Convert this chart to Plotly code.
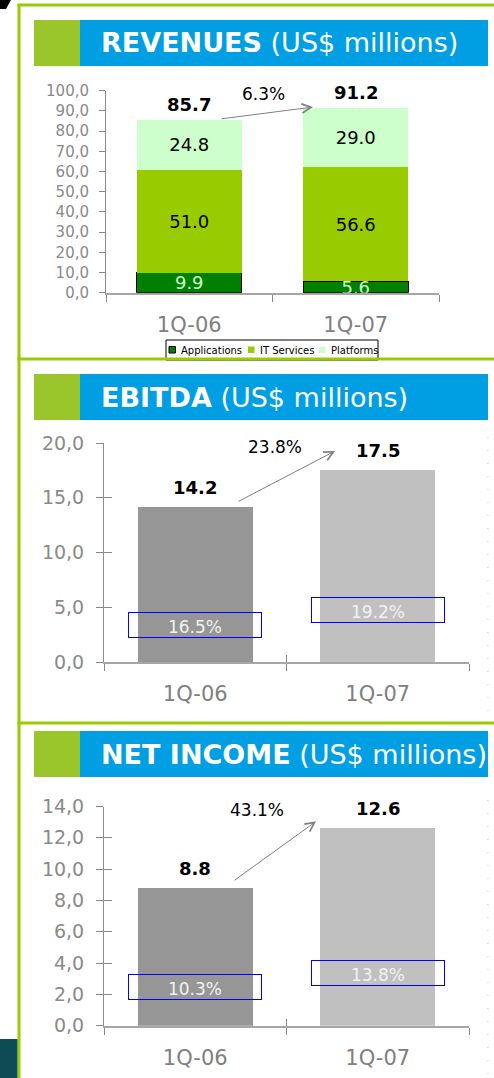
import plotly.graph_objects as go

# ---------------- data ----------------
quarters = ["1Q-06", "1Q-07"]

rev_series = ["Applications", "IT Services", "Platforms"]
rev_applications = [9.9, 5.6]
rev_it_services = [51.0, 56.6]
rev_platforms = [24.8, 29.0]
rev_total = [85.7, 91.2]
rev_growth = "6.3%"

ebitda = [14.2, 17.5]
ebitda_margin = ["16.5%", "19.2%"]
ebitda_growth = "23.8%"

net_income = [8.8, 12.6]
ni_margin = ["10.3%", "13.8%"]
ni_growth = "43.1%"

titles_bold = ["REVENUES", "EBITDA", "NET INCOME"]
title_unit = "(US$ millions)"

# ---------------- helpers ----------------
W, H = 494, 1078
FONT = "DejaVu Sans"


def px(x):
    return x / W


def py(y):
    return 1 - y / H


GREEN = "#99CC00"
BANNER_GREEN = "#9BC62B"
BLUE = "#009FE3"
TICK_GRAY = "#8A8A8A"
AXIS_GRAY = "#8C8C8C"

fig = go.Figure()

# ---------------- revenue (stacked) ----------------
rev_colors = ["#008000", "#99CC00", "#CCFFCC"]
rev_text_colors = ["#CCFFCC", "#000000", "#000000"]
rev_lines = [dict(color="#000000", width=1), dict(width=0), dict(width=0)]
for name, vals, col, tcol, ln in zip(rev_series,
                                     [rev_applications, rev_it_services, rev_platforms],
                                     rev_colors, rev_text_colors, rev_lines):
    fig.add_trace(go.Bar(
        x=quarters, y=vals, name=name, xaxis="x", yaxis="y",
        marker=dict(color=col, line=ln),
        text=[f"{v:.1f}" for v in vals], textposition="inside",
        insidetextanchor="middle", textangle=0, constraintext="none",
        textfont=dict(family=FONT, size=18, color=tcol),
        showlegend=False, hoverinfo="skip",
    ))

# ---------------- EBITDA ----------------
fig.add_trace(go.Bar(
    x=quarters, y=ebitda, xaxis="x2", yaxis="y2",
    marker=dict(color=["#969696", "#C0C0C0"], line=dict(width=0)),
    showlegend=False, hoverinfo="skip",
))

# ---------------- Net income ----------------
fig.add_trace(go.Bar(
    x=quarters, y=net_income, xaxis="x3", yaxis="y3",
    marker=dict(color=["#969696", "#C0C0C0"], line=dict(width=0)),
    showlegend=False, hoverinfo="skip",
))

# empty traces to hold overlay axes (crossing tick marks)
fig.add_trace(go.Scatter(x=[], y=[], xaxis="x4", yaxis="y4", showlegend=False, hoverinfo="skip"))
fig.add_trace(go.Scatter(x=[], y=[], xaxis="x5", yaxis="y5", showlegend=False, hoverinfo="skip"))

annotations = []
shapes = []

# ---------------- axes ----------------
def xcat(domain, anchor, standoff):
    return dict(domain=domain, anchor=anchor, type="category", categoryarray=quarters,
                categoryorder="array", range=[-0.5, 1.5], tickson="boundaries",
                ticks="outside", ticklen=7, tickcolor="#888888", tickwidth=1,
                showline=True, linecolor="#A6A6A6", linewidth=2, showgrid=False,
                zeroline=False, ticklabelstandoff=standoff, automargin=False,
                tickfont=dict(family=FONT, size=21, color="#808080"))


def ylin(domain, anchor, rng, dtick, fsize, standoff, ticklen):
    return dict(domain=domain, anchor=anchor, range=rng, dtick=dtick, tick0=0,
                tickformat=".1f", ticks="outside", ticklen=ticklen, tickcolor="#888888",
                showline=True, linecolor=AXIS_GRAY, linewidth=1, showgrid=False,
                zeroline=False, ticklabelstandoff=standoff, automargin=False,
                tickfont=dict(family=FONT, size=fsize, color=TICK_GRAY))


def overlay_x(over, anchor):
    return dict(overlaying=over, anchor=anchor, range=[-0.5, 1.5],
                tickvals=[-0.5, 0.5, 1.5], ticks="inside", ticklen=7,
                tickcolor="#888888", showticklabels=False, showline=False,
                showgrid=False, zeroline=False, automargin=False)


def overlay_y(over, anchor, rng, dtick):
    return dict(overlaying=over, anchor=anchor, side="left", range=rng, dtick=dtick,
                tick0=0, ticks="inside", ticklen=8, tickcolor="#888888",
                showticklabels=False, showline=False, showgrid=False, zeroline=False,
                automargin=False)


rev_x_dom = [px(106), px(439)]
rev_y_dom = [py(292.7), py(90.7)]
eb_x_dom = [px(104), px(469)]
eb_y_dom = [py(662), py(443)]
ni_x_dom = [px(104), px(469)]
ni_y_dom = [py(1025.7), py(806.5)]

layout_axes = dict(
    xaxis=xcat(rev_x_dom, "y", 12),
    yaxis=ylin(rev_y_dom, "x", [0, 100], 10, 15, 7, 6),
    xaxis2=xcat(eb_x_dom, "y2", 12),
    yaxis2=ylin(eb_y_dom, "x2", [0, 20], 5, 19, 8, 7),
    xaxis3=xcat(ni_x_dom, "y3", 12),
    yaxis3=ylin(ni_y_dom, "x3", [0, 14], 2, 19, 8, 7),
    xaxis4=overlay_x("x2", "y4"),
    yaxis4=overlay_y("y2", "x4", [0, 20], 5),
    xaxis5=overlay_x("x3", "y5"),
    yaxis5=overlay_y("y3", "x5", [0, 14], 2),
)

# ---------------- value labels ----------------
def total_labels(xr, yr, vals, yshift):
    for q, v in zip(quarters, vals):
        annotations.append(dict(x=q, y=v, xref=xr, yref=yr, text=f"<b>{v:.1f}</b>",
                                showarrow=False, yanchor="bottom", yshift=yshift,
                                font=dict(family=FONT, size=18, color="#000000")))


total_labels("x", "y", rev_total, 3)
total_labels("x2", "y2", ebitda, 7)
total_labels("x3", "y3", net_income, 7)


def growth(xr, yr, text, tx, ty, tail, head):
    annotations.append(dict(x=tx, y=ty, xref=xr, yref=yr, text=text, showarrow=False,
                            font=dict(family=FONT, size=17, color="#000000")))
    annotations.append(dict(x=head[0], y=head[1], ax=tail[0], ay=tail[1], xref=xr, yref=yr,
                            axref=xr, ayref=yr, text="", showarrow=True, arrowhead=5,
                            arrowsize=1.8, arrowwidth=1, arrowcolor="#808080", standoff=0))


growth("x", "y", rev_growth, 0.443, 98.4, (0.185, 86.0), (0.743, 91.9))
growth("x2", "y2", ebitda_growth, 0.437, 19.6, (0.229, 14.6), (0.766, 19.27))
growth("x3", "y3", ni_growth, 0.338, 13.75, (0.207, 9.22), (0.662, 13.05))


def margins(xr, yr, texts, ys):
    for i, (t, yy) in enumerate(zip(texts, ys)):
        annotations.append(dict(x=i, y=yy, xref=xr, yref=yr, text=t, showarrow=False,
                                width=132, height=24, bordercolor="#0000FF", borderwidth=1,
                                borderpad=0, valign="bottom", align="center",
                                font=dict(family=FONT, size=17, color="#F2F2F2")))


margins("x2", "y2", ebitda_margin, [3.42, 4.75])
margins("x3", "y3", ni_margin, [2.47, 3.36])

# ---------------- banners ----------------
banner_tops = [20, 374, 731]
for tb, bold in zip(banner_tops, titles_bold):
    shapes.append(dict(type="rect", xref="paper", yref="paper", x0=px(34), x1=px(80),
                       y0=py(tb + 46), y1=py(tb), fillcolor=BANNER_GREEN, line=dict(width=0)))
    shapes.append(dict(type="rect", xref="paper", yref="paper", x0=px(80), x1=px(488),
                       y0=py(tb + 46), y1=py(tb), fillcolor=BLUE, line=dict(width=0)))
    annotations.append(dict(x=px(99), y=py(tb + 23), xref="paper", yref="paper",
                            text=f"<b>{bold}</b> {title_unit}", showarrow=False,
                            xanchor="left", yanchor="middle",
                            font=dict(family=FONT, size=27, color="#FFFFFF")))

# ---------------- legend (manual, compact) ----------------
leg_sq_x = [169, 248, 319]
leg_tx_x = [179, 258, 329]
shapes.append(dict(type="rect", xref="paper", yref="paper", x0=px(166), x1=px(378),
                   y0=py(360), y1=py(340), line=dict(color="#000000", width=1),
                   fillcolor="rgba(0,0,0,0)"))
for name, col, ln, sx, tx in zip(rev_series, rev_colors, rev_lines, leg_sq_x, leg_tx_x):
    shapes.append(dict(type="rect", xref="paper", yref="paper", x0=px(sx), x1=px(sx + 6.5),
                       y0=py(353), y1=py(346.5), fillcolor=col,
                       line=ln if ln.get("width", 0) else dict(width=0)))
    annotations.append(dict(x=px(tx), y=py(350), xref="paper", yref="paper", text=name,
                            showarrow=False, xanchor="left", yanchor="middle",
                            font=dict(family=FONT, size=10, color="#000000")))

# ---------------- frame decorations ----------------
frame = dict(color=GREEN, width=3)
shapes += [
    dict(type="line", xref="paper", yref="paper", x0=px(19), x1=px(19), y0=py(4), y1=py(1078), line=frame),
    dict(type="line", xref="paper", yref="paper", x0=px(17.5), x1=px(494), y0=py(5), y1=py(5), line=frame),
    dict(type="line", xref="paper", yref="paper", x0=px(17.5), x1=px(494), y0=py(359), y1=py(359), line=frame),
    dict(type="line", xref="paper", yref="paper", x0=px(17.5), x1=px(494), y0=py(723), y1=py(723), line=frame),
    dict(type="path", xref="paper", yref="paper",
         path=f"M {px(0)},{py(0)} L {px(11)},{py(0)} L {px(6)},{py(9)} L {px(0)},{py(9)} Z",
         fillcolor="#000000", line=dict(width=0)),
    dict(type="rect", xref="paper", yref="paper", x0=px(0), x1=px(17.5), y0=py(1078), y1=py(1039),
         fillcolor="#0E4C55", line=dict(width=0)),
    dict(type="line", xref="paper", yref="paper", x0=px(488), x1=px(488), y0=py(437), y1=py(718),
         line=dict(color="#BBBBBB", width=1, dash="1px,12px")),
    dict(type="line", xref="paper", yref="paper", x0=px(488), x1=px(488), y0=py(800), y1=py(1078),
         line=dict(color="#BBBBBB", width=1, dash="1px,12px")),
]

fig.update_layout(
    width=W, height=H, margin=dict(l=0, r=0, t=0, b=0, autoexpand=False),
    paper_bgcolor="#FFFFFF", plot_bgcolor="rgba(0,0,0,0)",
    barmode="stack", bargap=0.37, separators=",.",
    showlegend=False, annotations=annotations, shapes=shapes,
    font=dict(family=FONT),
    **layout_axes,
)

fig.write_html(
    "out.html",
    config={"displayModeBar": False},
    post_script=(
        "document.documentElement.style.margin='0';"
        "document.body.style.margin='0';document.body.style.overflow='hidden';"
        "var d=document.getElementById('{plot_id}');"
        "d.style.position='fixed';d.style.top='0px';d.style.left='0px';"
    ),
)
